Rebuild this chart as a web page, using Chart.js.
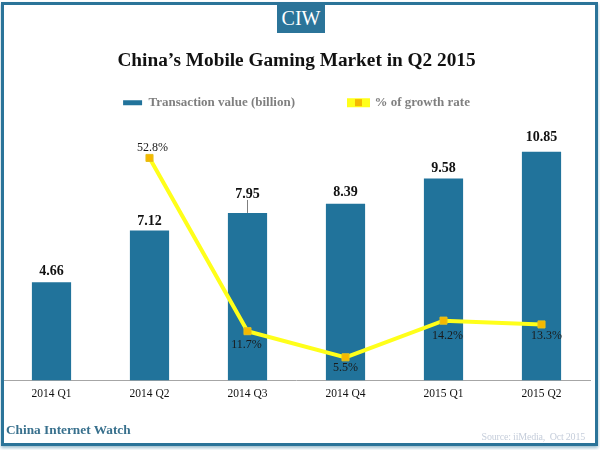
<!DOCTYPE html>
<html>
<head>
<meta charset="utf-8">
<title>China's Mobile Gaming Market in Q2 2015</title>
<script src="https://cdn.jsdelivr.net/npm/chart.js@4"></script>
<style>
  html, body { margin: 0; padding: 0; background: #fff; }
  #wrap { position: relative; width: 600px; height: 450px; overflow: hidden; }
  #chart { position: absolute; left: 0; top: 0; }
  #frame { position: absolute; left: 1px; top: 2px; width: 591px; height: 438px; border: 3px solid #2b7499; box-shadow: 0 2px 3px #9fc0d0; }
  #badge { position: absolute; left: 277px; top: 3px; width: 48px; height: 30px; background: #2b7499; color: #fff; font: 20px/30px "Liberation Serif", serif; text-align: center; }
  #brand { position: absolute; left: 6px; top: 422px; color: #38708d; font: bold 13.3px "Liberation Serif", serif; }
  #source { position: absolute; right: 15px; top: 431px; color: #c6cedb; font: 10px "Liberation Serif", serif; letter-spacing: -0.2px; white-space: pre; }
</style>
</head>
<body>
<div id="wrap">
  <canvas id="chart" width="600" height="450"></canvas>
  <div id="frame"></div>
  <div id="badge">CIW</div>
  <div id="brand">China Internet Watch</div>
  <div id="source">Source: iiMedia,  Oct 2015</div>
</div>
<script>
var categories = ['2014 Q1', '2014 Q2', '2014 Q3', '2014 Q4', '2015 Q1', '2015 Q2'];
var transactionValue = [4.66, 7.12, 7.95, 8.39, 9.58, 10.85];
var growthRate = [null, 52.8, 11.7, 5.5, 14.2, 13.3];
var valueLabels = ['4.66', '7.12', '7.95', '8.39', '9.58', '10.85'];
var growthLabels = ['', '52.8%', '11.7%', '5.5%', '14.2%', '13.3%'];

// label placement relative to the mark
var valueLift = [11, 9, 19, 11, 10, 14];
var growthShift = [null, [3, -10], [-1, 14], [0, 11], [4, 15], [5, 11]];

var serif = '"Liberation Serif", serif';

var labelsPlugin = {
  id: 'labels',
  afterDatasetsDraw: function(chart) {
    var ctx = chart.ctx;
    var bars = chart.getDatasetMeta(0).data;
    var points = chart.getDatasetMeta(1).data;
    ctx.save();
    ctx.textAlign = 'center';
    ctx.textBaseline = 'middle';

    // leader line of the 7.95 label
    ctx.strokeStyle = '#7f7f7f';
    ctx.lineWidth = 1;
    ctx.beginPath();
    ctx.moveTo(bars[2].x, bars[2].y - 13);
    ctx.lineTo(bars[2].x, bars[2].y);
    ctx.stroke();

    ctx.font = 'bold 14px ' + serif;
    ctx.fillStyle = '#111';
    bars.forEach(function(bar, i) {
      ctx.fillText(valueLabels[i], bar.x, bar.y - valueLift[i]);
    });

    ctx.font = '12px ' + serif;
    ctx.fillStyle = '#1a1a1a';
    points.forEach(function(pt, i) {
      if (!growthShift[i]) return;
      ctx.fillText(growthLabels[i], pt.x + growthShift[i][0], pt.y + growthShift[i][1]);
    });

    // marker on the line swatch of the legend
    var box = chart.legend.legendHitBoxes[1];
    ctx.fillStyle = '#f5b800';
    ctx.fillRect(box.left + 6, box.top + box.height / 2 - 3.5, 7, 7);
    ctx.restore();
  }
};

new Chart(document.getElementById('chart').getContext('2d'), {
  data: {
    labels: categories,
    datasets: [
      {
        type: 'bar',
        label: 'Transaction value (billion)',
        data: transactionValue,
        backgroundColor: '#21739b',
        barPercentage: 0.4,
        categoryPercentage: 1,
        yAxisID: 'y',
        order: 2
      },
      {
        type: 'line',
        label: '% of growth rate',
        data: growthRate,
        borderColor: '#ffff1a',
        backgroundColor: '#ffff1a',
        borderWidth: 4,
        tension: 0,
        pointStyle: 'rect',
        pointRadius: 5,
        pointBackgroundColor: '#f5b800',
        pointBorderColor: '#e6c21a',
        pointBorderWidth: 1,
        yAxisID: 'y2',
        order: 1
      }
    ]
  },
  options: {
    responsive: false,
    animation: false,
    layout: { autoPadding: false, padding: { left: 2.5, right: 9.5, top: 0, bottom: 0 } },
    plugins: {
      tooltip: { enabled: false },
      title: {
        display: true,
        text: 'China\u2019s Mobile Gaming Market in Q2 2015',
        color: '#111',
        font: { family: serif, size: 19.3, weight: 'bold' },
        padding: { top: 49, bottom: -30 }
      },
      legend: {
        display: true,
        position: 'top',
        labels: {
          boxWidth: 19,
          boxHeight: 5,
          padding: 54,
          color: '#7f7f7f',
          font: { family: serif, size: 13, weight: 'bold' },
          sort: function(a, b) { return a.datasetIndex - b.datasetIndex; }
        }
      }
    },
    scales: {
      x: {
        grid: { display: false, drawTicks: false },
        border: { display: true, color: '#a6a6a6', width: 1 },
        ticks: {
          color: '#111',
          padding: 7,
          font: { family: serif, size: 11.5 },
          maxRotation: 0
        },
        afterFit: function(scale) {
          scale.height = 69.5;
          scale.paddingLeft = 0;
          scale.paddingRight = 0;
        }
      },
      y: { display: false, min: 0, max: 12.4 },
      y2: { display: false, min: 0, max: 62 }
    }
  },
  plugins: [labelsPlugin]
});
</script>
</body>
</html>
